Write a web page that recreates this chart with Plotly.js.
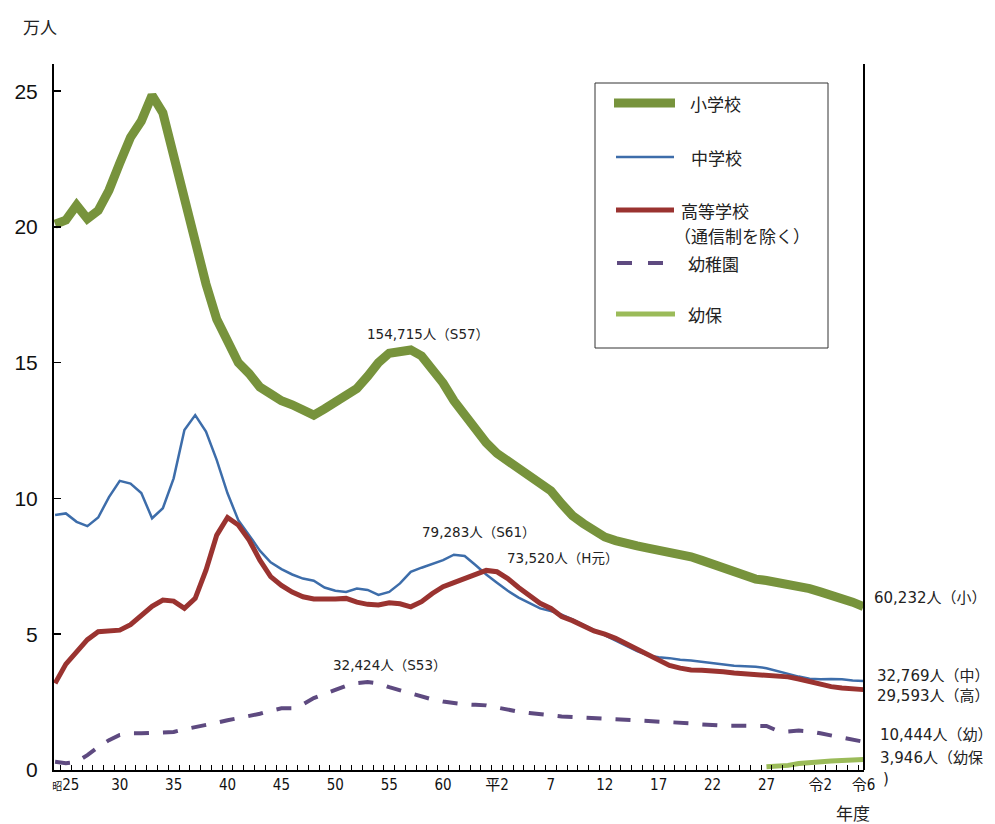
<!DOCTYPE html>
<html><head><meta charset="utf-8">
<script src="https://cdn.plot.ly/plotly-3.0.1.min.js"></script>
<style>html,body{margin:0;padding:0;background:#fff;} #chart{width:995px;height:824px;}</style>
</head><body><div id="chart"></div>
<script>
// 年度（昭和24〜令和6）
const years = [1949,1950,1951,1952,1953,1954,1955,1956,1957,1958,1959,
  1960,1961,1962,1963,1964,1965,1966,1967,1968,1969,
  1970,1971,1972,1973,1974,1975,1976,1977,1978,1979,
  1980,1981,1982,1983,1984,1985,1986,1987,1988,1989,
  1990,1991,1992,1993,1994,1995,1996,1997,1998,1999,
  2000,2001,2002,2003,2004,2005,2006,2007,2008,2009,
  2010,2011,2012,2013,2014,2015,2016,2017,2018,2019,
  2020,2021,2022,2023,2024];
// 単位：万人
const elementary = [20.1,20.25,20.8,20.3,20.6,21.35,22.35,23.3,23.9,24.85,24.2,
  22.6,20.9,19.3,17.9,16.6,15.8,15.0,14.6,14.1,13.85,
  13.6,13.45,13.3,13.07,13.3,13.55,13.8,14.05,14.5,15.0,
  15.35,15.45,15.47,15.25,14.75,14.25,13.6,13.05,12.55,12.05,
  11.66,11.37,11.08,10.8,10.55,10.28,9.8,9.37,9.08,8.8,
  8.58,8.45,8.32,8.25,8.17,8.1,8.02,7.94,7.85,7.72,
  7.58,7.42,7.27,7.13,7.03,6.98,6.92,6.86,6.77,6.68,
  6.56,6.45,6.33,6.18,6.02];
const juniorHigh = [9.39,9.45,9.14,8.98,9.3,10.05,10.65,10.55,10.2,9.27,9.64,
  10.74,12.52,13.07,12.46,11.41,10.19,9.2,8.65,8.08,7.65,
  7.4,7.2,7.05,6.97,6.72,6.6,6.56,6.68,6.63,6.45,
  6.56,6.87,7.3,7.45,7.6,7.73,7.93,7.88,7.55,7.2,
  6.9,6.6,6.35,6.14,5.95,5.85,5.72,5.55,5.35,5.15,
  4.95,4.78,4.58,4.38,4.22,4.15,4.12,4.06,4.03,3.98,
  3.93,3.88,3.84,3.82,3.8,3.75,3.64,3.53,3.44,3.36,
  3.34,3.35,3.34,3.3,3.28];
const highSchool = [3.19,3.9,4.35,4.8,5.09,5.1,5.15,5.35,5.71,6.03,6.26,
  6.22,5.95,6.32,7.36,8.65,9.3,9.02,8.47,7.73,7.12,
  6.8,6.55,6.38,6.3,6.28,6.3,6.32,6.18,6.1,6.08,
  6.16,6.12,6.01,6.2,6.5,6.75,6.9,7.05,7.24,7.35,
  7.3,7.05,6.72,6.42,6.14,5.95,5.65,5.5,5.3,5.12,
  5.0,4.85,4.65,4.45,4.2,4.0,3.85,3.75,3.68,3.67,
  3.66,3.62,3.57,3.54,3.5,3.48,3.45,3.43,3.35,3.25,
  3.15,3.07,3.02,2.98,2.96];
const kindergarten = [0.3,0.25,0.3,0.55,0.85,1.1,1.29,1.35,1.35,1.36,1.38,
  1.4,1.5,1.57,1.65,1.74,1.83,1.9,1.98,2.07,2.18,
  2.27,2.27,2.42,2.65,2.82,2.95,3.1,3.2,3.24,3.19,
  3.05,2.93,2.82,2.7,2.6,2.52,2.46,2.42,2.4,2.38,
  2.3,2.22,2.15,2.1,2.05,2.0,1.97,1.95,1.93,1.91,
  1.9,1.88,1.85,1.83,1.81,1.79,1.77,1.75,1.72,1.68,
  1.65,1.63,1.63,1.63,1.63,1.62,1.45,1.42,1.45,1.42,
  1.35,1.28,1.2,1.12,1.04];
const kodomoenYears = [2015,2016,2017,2018,2019,2020,2021,2022,2023,2024];
const kodomoen = [0.12,0.14,0.17,0.24,0.28,0.31,0.33,0.35,0.37,0.39];

const tickYears = [1950,1955,1960,1965,1970,1975,1980,1985,1990,1995,2000,2005,2010,2015,2020,2024];
const tickLabels = ['<span style="font-size:10px">昭</span>25','30','35','40','45','50','55','60','平2','7','12','17','22','27','令2','令6'];

const seriesNames = ['小学校','中学校','高等学校','幼稚園','幼保'];
const colors = {elem:'#77933C', jh:'#3D6DAA', hs:'#9A3330', kg:'#5E4A80', kd:'#9BBB59'};

// pixel -> paper helpers (for text/legend placement)
const L=54, R=864, T=64, B=770;
function px(x){return (x-L)/(R-L);}
function py(y){return (B-y)/(B-T);}

const halfYears = [];
for (let v = 1948.5; v <= 2024; v += 1) halfYears.push(v);

const traces = [
  {x: years, y: kindergarten, name: seriesNames[3], mode:'lines', line:{color:colors.kg, width:4, dash:'15px,14px'}},
  {x: kodomoenYears, y: kodomoen, name: seriesNames[4], mode:'lines', line:{color:colors.kd, width:5}},
  {x: years, y: juniorHigh, name: seriesNames[1], mode:'lines', line:{color:colors.jh, width:2.5}},
  {x: years, y: highSchool, name: seriesNames[2], mode:'lines', line:{color:colors.hs, width:5}},
  {x: years, y: elementary, name: seriesNames[0], mode:'lines', line:{color:colors.elem, width:9}}
];

const jp = '"Noto Sans CJK JP", "Noto Sans", sans-serif';
const num = '"DejaVu Sans", "Noto Sans CJK JP", sans-serif';
const shapes = [
  {type:'line', xref:'paper', yref:'paper', x0:1, x1:1, y0:0, y1:1, line:{color:'#000', width:2}},
  {type:'rect', xref:'paper', yref:'paper', x0:px(595), x1:px(828), y0:py(83), y1:py(348), line:{color:'#333', width:1}, fillcolor:'rgba(255,255,255,0)'},
  {type:'line', xref:'paper', yref:'paper', x0:px(614), x1:px(675), y0:py(103), y1:py(103), line:{color:colors.elem, width:9}},
  {type:'line', xref:'paper', yref:'paper', x0:px(616), x1:px(674), y0:py(157), y1:py(157), line:{color:colors.jh, width:2.5}},
  {type:'line', xref:'paper', yref:'paper', x0:px(616), x1:px(674), y0:py(210), y1:py(210), line:{color:colors.hs, width:5}},
  {type:'line', xref:'paper', yref:'paper', x0:px(617), x1:px(632), y0:py(263), y1:py(263), line:{color:colors.kg, width:4}},
  {type:'line', xref:'paper', yref:'paper', x0:px(648), x1:px(663), y0:py(263), y1:py(263), line:{color:colors.kg, width:4}},
  {type:'line', xref:'paper', yref:'paper', x0:px(616), x1:px(675), y0:py(314), y1:py(314), line:{color:colors.kd, width:5}}
];

function ann(text, x, y, size, anchor, fam){
  return {text:text, xref:'paper', yref:'paper', x:px(x), y:py(y), xanchor:anchor||'left', yanchor:'middle',
    showarrow:false, font:{family:fam||jp, size:size, color:'#222'}};
}
const annotations = [
  ann('万人', 40, 27, 17, 'center'),
  ann('年度', 853, 812, 17, 'center'),
  ann(seriesNames[0], 688, 103, 17),
  ann(seriesNames[1], 689, 157, 17),
  ann(seriesNames[2], 679, 210, 17),
  ann('（通信制を除く）', 672, 236, 17),
  ann(seriesNames[3], 686, 263, 17),
  ann(seriesNames[4], 686, 314, 17),
  ann('154,715人（S57）', 428, 334, 13.5, 'center', num),
  ann('79,283人（S61）', 478, 532, 13.5, 'center', num),
  ann('73,520人（H元）', 562, 558, 13.5, 'center', num),
  ann('32,424人（S53）', 389, 665, 13.5, 'center', num),
  ann('60,232人（小）', 872, 598, 15, 'left', num),
  ann('32,769人（中）', 875, 676, 15, 'left', num),
  ann('29,593人（高）', 875, 696, 15, 'left', num),
  ann('10,444人（幼）', 878, 735, 15, 'left', num),
  ann('3,946人（幼保', 878, 758, 15, 'left', num),
  ann(')', 881, 779, 15, 'left', num)
];

const layout = {
  width:995, height:824,
  margin:{l:L, r:995-R, t:T, b:824-B, pad:0},
  paper_bgcolor:'#fff', plot_bgcolor:'#fff',
  showlegend:false,
  xaxis:{range:[1948.9, 2024.05], tickmode:'array', tickvals:tickYears, ticktext:tickLabels,
    ticks:'', showline:true, linecolor:'#000', linewidth:2, showgrid:false, zeroline:false,
    tickfont:{family:'"Liberation Sans Narrow", "DejaVu Sans Condensed", "Noto Sans CJK JP", sans-serif', size:15, color:'#111'},
    minor:{tickmode:'array', tickvals:halfYears, ticks:'inside', ticklen:5, tickwidth:1, tickcolor:'#000', showgrid:false}},
  yaxis:{range:[0,26], tickmode:'array', tickvals:[0,5,10,15,20,25], ticks:'inside', ticklen:7, tickwidth:1.5, tickcolor:'#000',
    showline:true, linecolor:'#000', linewidth:2, showgrid:false, zeroline:false, ticklabelstandoff:10,
    tickfont:{family:'"Liberation Sans", Arial, sans-serif', size:21, color:'#111'}},
  shapes:shapes,
  annotations:annotations
};

Plotly.newPlot('chart', traces, layout, {staticPlot:true, displayModeBar:false});
</script>
</body></html>
